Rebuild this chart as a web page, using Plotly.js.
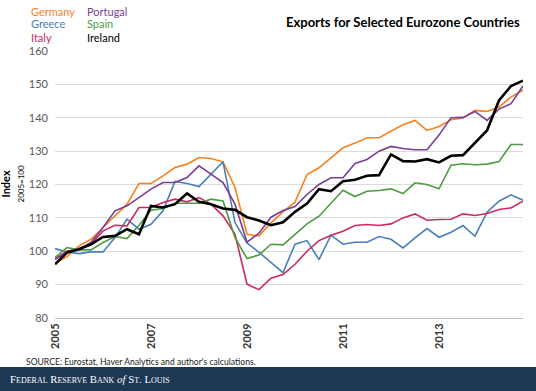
<!DOCTYPE html>
<html>
<head>
<meta charset="utf-8">
<script src="https://cdn.plot.ly/plotly-3.0.1.min.js"></script>
<style>html,body{margin:0;padding:0;background:#fff;}#chart{width:536px;height:391px;}</style>
</head>
<body>
<div id="chart"></div>
<script>
// Quarterly, 2005Q1 .. 2014Q4
const quarters = Array.from({length: 40}, (_, i) => i);
const tickPositions = [0, 8, 16, 24, 32];
const tickLabels = ["2005", "2007", "2009", "2011", "2013"];

const germany = [96.4,98.4,101.6,103.6,107.1,110.6,114.1,120.3,120.3,122.6,125.1,126.1,128.1,127.8,126.8,119.1,105.1,104.6,108.5,111.8,114.7,123.0,125.0,128.0,131.0,132.4,134.0,134.0,135.9,137.9,139.2,136.2,137.4,139.4,139.9,142.2,141.9,143.2,146.2,148.3];
const greece = [100.8,99.8,99.3,99.8,99.8,104.1,109.6,106.6,108.1,112.1,120.9,120.3,119.4,123.1,126.8,108.6,102.5,99.7,96.5,93.6,102.1,103.2,97.5,104.8,102.1,102.7,102.7,104.4,103.6,101.0,104.0,106.8,104.2,105.7,107.7,104.5,111.7,115.0,116.9,115.3];
const italy = [97.6,100.1,100.8,102.1,106.1,107.8,107.6,113.1,113.1,114.6,115.6,114.8,116.1,114.1,110.6,105.1,90.1,88.5,91.9,93.0,96.1,100.0,103.2,104.8,106.0,107.7,108.0,107.7,108.2,110.0,111.2,109.3,109.5,109.6,111.2,110.7,111.3,112.5,113.0,115.0];
const portugal = [97.6,99.6,100.6,102.6,107.1,112.1,113.6,116.1,118.6,120.6,120.6,122.1,125.6,123.1,120.6,114.1,102.7,105.4,110.2,112.2,113.4,117.0,120.0,122.0,122.0,126.3,127.5,130.0,131.4,130.8,130.4,130.4,134.8,140.0,140.1,141.9,139.2,142.6,144.2,149.5];
const spain = [98.1,101.1,100.4,100.4,102.6,104.4,103.8,107.8,112.3,112.8,114.4,114.4,114.4,115.6,115.1,104.1,97.8,98.9,102.1,101.9,105.1,108.2,110.5,114.5,118.3,116.4,118.0,118.2,118.7,117.3,120.5,120.0,118.7,125.8,126.2,125.9,126.1,126.9,132.0,132.0];
const ireland = [96.1,99.6,100.6,102.1,104.3,104.6,106.6,105.1,113.6,113.1,114.1,117.3,114.8,114.1,112.8,112.4,110.2,109.2,107.8,108.7,111.8,114.3,118.6,118.0,121.0,121.4,122.6,122.8,129.0,127.0,126.9,127.6,126.6,128.6,128.8,132.4,136.2,145.2,149.5,151.1];

const names = ["Germany","Greece","Italy","Portugal","Spain","Ireland"];
const colors = {Germany:"#f5821f", Greece:"#4a7ebb", Italy:"#cc2a5c", Portugal:"#7a3d98", Spain:"#4f9a45", Ireland:"#000000"};
const seriesData = {Germany:germany, Greece:greece, Italy:italy, Portugal:portugal, Spain:spain, Ireland:ireland};

const traces = names.map(n => ({
  x: quarters, y: seriesData[n], type: "scatter", mode: "lines", name: n,
  line: {color: colors[n], width: n === "Ireland" ? 2.6 : 1.6},
  hoverinfo: "skip"
}));

const L = 55, R = 13, T = 51, B = 73, W = 536, H = 391;
const pw = W - L - R, ph = H - T - B;
const px = x => (x - L) / pw;
const py = y => (H - B - y) / ph;

const legendLayout = [
  ["Germany", 29, 11], ["Greece", 29, 24], ["Italy", 29, 37],
  ["Portugal", 85, 11], ["Spain", 85, 24], ["Ireland", 85, 37]
];
const annotations = legendLayout.map(([n, x, y]) => ({
  xref: "paper", yref: "paper", x: px(x), y: py(y), xanchor: "left", yanchor: "middle",
  text: n, showarrow: false, font: {family: "Lato, sans-serif", size: 11, color: colors[n]}
}));
annotations.push({
  xref: "paper", yref: "paper", x: px(522), y: py(22), xanchor: "right", yanchor: "middle",
  text: "<b>Exports for Selected Eurozone Countries</b>", showarrow: false,
  font: {family: "Lato, sans-serif", size: 13, color: "#000"}
});
annotations.push({
  xref: "paper", yref: "paper", x: px(12), y: 0.5, xanchor: "center", yanchor: "middle", textangle: -90,
  text: "<b>Index</b><br><span style='font-size:8px'>2005=100</span>", showarrow: false,
  font: {family: "Lato, sans-serif", size: 11, color: "#000"}
});
annotations.push({
  xref: "paper", yref: "paper", x: px(24), y: py(362), xanchor: "left", yanchor: "middle",
  text: "SOURCE: Eurostat, Haver Analytics and author's calculations.", showarrow: false,
  font: {family: "Lato, sans-serif", size: 8.6, color: "#222"}
});
const sc = s => "<span style='font-size:8px'>" + s + "</span>";
annotations.push({
  xref: "paper", yref: "paper", x: px(8), y: py(379), xanchor: "left", yanchor: "middle",
  text: "F" + sc("EDERAL") + " R" + sc("ESERVE") + " B" + sc("ANK") + " <i>of</i> S" + sc("T") + ". L" + sc("OUIS"),
  showarrow: false, font: {family: "Liberation Serif, serif", size: 10.8, color: "#ffffff"}
});

const layout = {
  width: W, height: H, margin: {l: L, r: R, t: T, b: B},
  paper_bgcolor: "#ffffff", plot_bgcolor: "#ffffff", showlegend: false,
  xaxis: {
    range: [0, 39], tickvals: tickPositions, ticktext: tickLabels, tickangle: -90,
    showgrid: false, zeroline: false, showline: true, linecolor: "#bfbfbf", linewidth: 1,
    ticks: "", tickfont: {family: "Lato, sans-serif", size: 11, color: "#333", weight: "bold"}
  },
  yaxis: {
    range: [80, 160], dtick: 10, showgrid: true, gridcolor: "#dcdcdc", gridwidth: 1,
    zeroline: false, showline: false, ticks: "", ticklabelstandoff: 6,
    tickfont: {family: "Lato, sans-serif", size: 11, color: "#595959"}
  },
  shapes: [{
    type: "rect", xref: "paper", yref: "paper", x0: px(-2), x1: px(W + 2), y0: py(367), y1: py(H + 2),
    fillcolor: "#1d3854", line: {width: 0}, layer: "below"
  }],
  annotations: annotations
};

Plotly.newPlot("chart", traces, layout, {displayModeBar: false, staticPlot: true});
</script>
</body>
</html>
